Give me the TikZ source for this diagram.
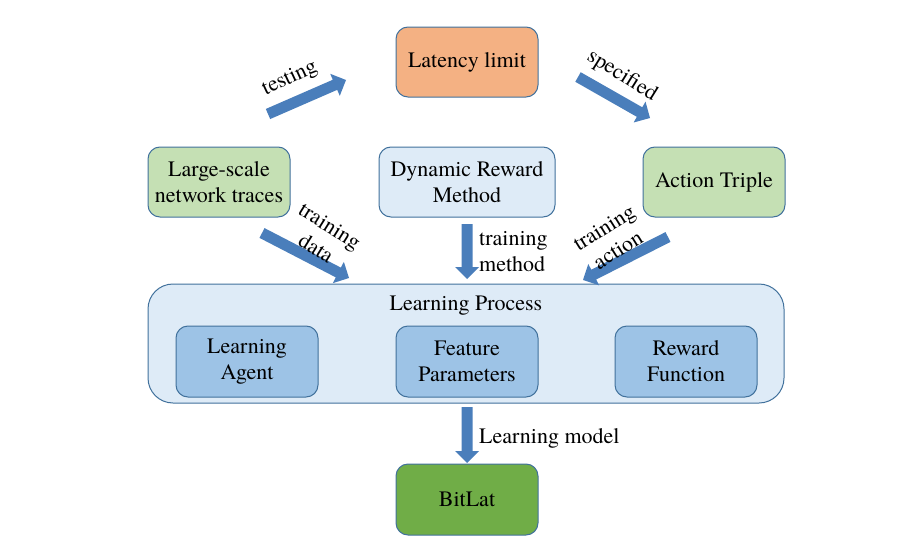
\documentclass[tikz,border=0pt]{standalone}
\usepackage{fontspec}
\IfFontExistsTF{texgyretermes-regular.otf}{\setmainfont{texgyretermes-regular.otf}}{}
\usetikzlibrary{calc}
\definecolor{bordc}{HTML}{41719C}
\definecolor{orangef}{HTML}{F4B183}
\definecolor{greenf}{HTML}{C5E0B4}
\definecolor{lightf}{HTML}{DEEBF7}
\definecolor{midf}{HTML}{9DC3E6}
\definecolor{darkgreen}{HTML}{70AD47}
\definecolor{arrowc}{HTML}{4A7EBB}
\newcommand{\blockarr}[2]{%
  \coordinate (ba-h) at ($(#2)!12pt!(#1)$);
  \fill[arrowc] ($(#1)!5.5pt!90:(#2)$) -- ($(ba-h)!5.5pt!-90:(#1)$) -- ($(ba-h)!12pt!-90:(#1)$) -- (#2) -- ($(ba-h)!12pt!90:(#1)$) -- ($(ba-h)!5.5pt!90:(#1)$) -- ($(#1)!5.5pt!-90:(#2)$) -- cycle;
}
\begin{document}
\begin{tikzpicture}[x=1pt,y=-1pt,
  every node/.style={font=\fontsize{22}{26}\selectfont, inner sep=0pt},
  boxs/.style={draw=bordc, line width=1pt, rounded corners=12pt, align=center, minimum width=142pt, minimum height=70pt},
  lbl/.style={align=center}
]
\useasboundingbox (0,0) rectangle (924,546);
% boxes
\node[boxs, fill=orangef] (lat) at (467,62) {Latency limit};
\node[boxs, fill=greenf] (traces) at (219,182) {Large-scale\\network traces};
\node[boxs, fill=lightf, minimum width=176pt] (drm) at (467,182) {Dynamic Reward\\Method};
\node[boxs, fill=greenf] (act) at (714,182) {Action Triple};
\node[boxs, fill=lightf, rounded corners=25pt, minimum width=636pt, minimum height=119pt] (lp) at (466,343.5) {};
\node (lptitle) at (466,306) {Learning Process};
\node[boxs, fill=midf, minimum height=71pt] (agent) at (247,361.5) {Learning\\Agent};
\node[boxs, fill=midf, minimum height=71pt] (feat) at (467,361.5) {Feature\\Parameters};
\node[boxs, fill=midf, minimum height=71pt] (rew) at (686,361.5) {Reward\\Function};
\node[boxs, fill=darkgreen, minimum height=71pt] (bit) at (467,499.5) {BitLat};
% arrow end points
\coordinate (tA) at (268,114); \coordinate (tB) at (346,80);
\coordinate (sA) at (578,77);  \coordinate (sB) at (650,118);
\coordinate (dA) at (262,233); \coordinate (dB) at (349,278);
\coordinate (mA) at (467,224); \coordinate (mB) at (467,279);
\coordinate (aA) at (668,237); \coordinate (aB) at (583,280);
\coordinate (lA) at (467,407); \coordinate (lB) at (467,463);
\blockarr{tA}{tB}
\blockarr{sA}{sB}
\blockarr{dA}{dB}
\blockarr{mA}{mB}
\blockarr{aA}{aB}
\blockarr{lA}{lB}
% labels
\node[lbl, rotate=25] (ltest) at (290,79) {testing};
\node[lbl, rotate=-32] (lspec) at (622,76) {specified};
\node[lbl, rotate=-32] (ldata) at (323,237) {training\\data};
\node[align=left, anchor=west] (lmeth) at (479,252) {training\\method};
\node[lbl, rotate=32] (lact) at (611,239) {training\\action};
\node[anchor=west] (lmod) at (479,438) {Learning model};
\end{tikzpicture}
\end{document}
